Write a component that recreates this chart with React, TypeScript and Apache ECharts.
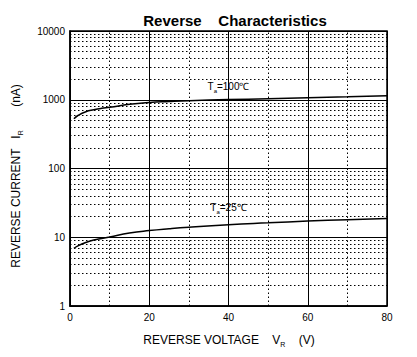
import React, { useEffect, useRef } from "react";
import * as echarts from "echarts";

const vr100 = [1, 2, 4, 6, 8, 10, 15, 20, 25, 30, 40, 50, 60, 70, 80];
const ir100 = [530, 590, 670, 715, 750, 775, 860, 915, 945, 970, 1005, 1035, 1070, 1105, 1140];
const vr25 = [1, 2, 4, 6, 8, 10, 15, 20, 25, 30, 40, 50, 60, 70, 80];
const ir25 = [6.9, 7.5, 8.4, 9.1, 9.6, 10.1, 11.5, 12.5, 13.3, 14.0, 15.2, 16.2, 17.2, 18.0, 18.8];

const xTicks = [0, 20, 40, 60, 80];
const xMinor = [10, 30, 50, 70];
const yDecades = [1, 10, 100, 1000, 10000];
const yMinorMult = [2, 3, 4, 5, 6, 7, 8, 9];

const label100 = { x: 40, y: 1550, text: "100℃" };
const label25 = { x: 40, y: 27, text: "25℃" };

export default function App() {
  const ref = useRef<HTMLDivElement>(null);
  useEffect(() => {
    if (!ref.current) return;
    const chart = echarts.init(ref.current, null, { renderer: "svg" });
    const yMinor: number[] = [];
    for (let i = 0; i < yDecades.length - 1; i++) {
      for (const m of yMinorMult) yMinor.push(yDecades[i] * m);
    }
    const dotted = { color: "#000", width: 1, type: [1.5, 2.5] as any };
    const font = "Liberation Sans, Arial, sans-serif";
    const tLabel = (t: string) => ({
      show: true,
      color: "#000",
      formatter: `{t|T}{s|a}{t|=${t}}`,
      rich: {
        t: { fontSize: 10, fontFamily: font, color: "#000" },
        s: { fontSize: 6, fontFamily: font, color: "#000", padding: [8, 0, 0, 0] },
      },
    });
    chart.setOption({
      animation: false,
      title: {
        text: "Reverse    Characteristics",
        left: 230,
        top: 8,
        textAlign: "center",
        textStyle: { fontSize: 15, fontWeight: "bold", fontFamily: font, color: "#000" },
      },
      grid: {
        left: 70,
        right: 30,
        top: 31,
        bottom: 51,
        show: true,
        borderColor: "#000",
        borderWidth: 1.5,
      },
      xAxis: {
        type: "value",
        min: 0,
        max: 80,
        interval: 20,
        axisLine: { show: true, lineStyle: { color: "#000", width: 1.5 } },
        axisTick: { show: false },
        axisLabel: { color: "#000", fontSize: 10, fontFamily: font, margin: 6, customValues: xTicks },
        splitLine: { show: true, lineStyle: { color: "#000", width: 1 } },
      },
      yAxis: {
        type: "log",
        logBase: 10,
        min: 1,
        max: 10000,
        axisLine: { show: true, lineStyle: { color: "#000", width: 1.5 } },
        axisTick: { show: false },
        axisLabel: {
          color: "#000",
          fontSize: 10,
          fontFamily: font,
          margin: 5,
          formatter: (v: number) => String(Math.round(v)),
        },
        splitLine: { show: true, lineStyle: { color: "#000", width: 1 } },
      },
      graphic: [
        {
          type: "text",
          x: 16,
          y: 176,
          rotation: Math.PI / 2,
          style: {
            text: "{a|REVERSE CURRENT   I}{s|R}{a|       (nA)}",
            rich: {
              a: { fontSize: 12, fontFamily: font, fill: "#000" },
              s: { fontSize: 7, fontFamily: font, fill: "#000", padding: [8, 0, 0, 0] },
            },
            align: "center",
            verticalAlign: "middle",
          },
        },
        {
          type: "text",
          x: 229,
          y: 340,
          style: {
            text: "{a|REVERSE VOLTAGE    V}{s|R}{a|    (V)}",
            rich: {
              a: { fontSize: 12, fontFamily: font, fill: "#000" },
              s: { fontSize: 7, fontFamily: font, fill: "#000", padding: [8, 0, 0, 0] },
            },
            align: "center",
            verticalAlign: "middle",
          },
        },
      ],
      series: [
        {
          type: "line",
          data: [],
          silent: true,
          markLine: {
            silent: true,
            symbol: "none",
            label: { show: false },
            lineStyle: dotted,
            data: [
              ...xMinor.map((v) => ({ xAxis: v })),
              ...yMinor.map((v) => ({ yAxis: v })),
            ],
          },
        },
        {
          type: "line",
          smooth: true,
          symbol: "none",
          lineStyle: { color: "#000", width: 1.5 },
          data: vr100.map((v, i) => [v, ir100[i]]),
          markPoint: {
            symbolSize: 0,
            data: [{ coord: [label100.x, label100.y], label: tLabel(label100.text) }],
          },
        },
        {
          type: "line",
          smooth: true,
          symbol: "none",
          lineStyle: { color: "#000", width: 1.5 },
          data: vr25.map((v, i) => [v, ir25[i]]),
          markPoint: {
            symbolSize: 0,
            data: [{ coord: [label25.x, label25.y], label: tLabel(label25.text) }],
          },
        },
      ],
    });
    return () => chart.dispose();
  }, []);
  return <div ref={ref} style={{ width: 417, height: 357, position: "absolute", left: 0, top: 0, background: "#fff" }} />;
}
